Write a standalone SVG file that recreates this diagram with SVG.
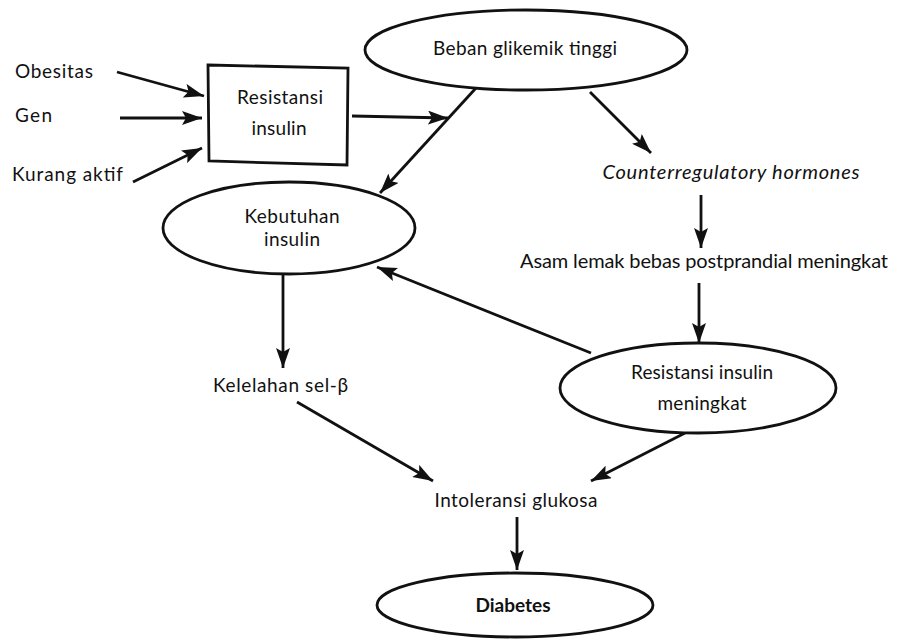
<svg xmlns="http://www.w3.org/2000/svg" width="897" height="639" viewBox="0 0 897 639">
<style>
text{font-family:Lato,"Open Sans","DejaVu Sans",sans-serif;font-size:19px;fill:#111;}
.c{text-anchor:middle;}
.big{font-size:20px;}
.shape{fill:#fff;stroke:#111;stroke-width:2.8;}
.edge{fill:none;stroke:#111;stroke-width:2.8;marker-end:url(#ah);}
</style>
<defs>
<marker id="ah" markerUnits="userSpaceOnUse" markerWidth="22" markerHeight="14" refX="20" refY="7" orient="auto">
<path d="M0,0 L20,7 L0,14 L4,7 z" fill="#111"/>
</marker>
</defs>
<rect width="897" height="639" fill="#fff"/>
<g id="connectors">
<line class="edge" x1="117" y1="72" x2="204" y2="96"/>
<line class="edge" x1="120" y1="118" x2="202" y2="118"/>
<line class="edge" x1="133" y1="182" x2="202" y2="148"/>
<line class="edge" x1="352" y1="116" x2="448" y2="118"/>
<line class="edge" x1="476" y1="88" x2="380" y2="193"/>
<line class="edge" x1="590" y1="92" x2="651" y2="153"/>
<line class="edge" x1="701" y1="195" x2="701" y2="248"/>
<line class="edge" x1="699" y1="283" x2="699" y2="343"/>
<line class="edge" x1="591" y1="353" x2="377" y2="267"/>
<line class="edge" x1="283" y1="275" x2="283" y2="368"/>
<line class="edge" x1="297" y1="402" x2="433" y2="481"/>
<line class="edge" x1="685" y1="433" x2="591" y2="481"/>
<line class="edge" x1="517" y1="517" x2="517" y2="570"/>
</g>
<g id="obesitas"><text x="15" y="78" textLength="78">Obesitas</text></g>
<g id="gen"><text x="15" y="122" textLength="37">Gen</text></g>
<g id="kurang-aktif"><text x="12" y="181" textLength="111">Kurang aktif</text></g>
<g id="resistansi-insulin">
<path class="shape" d="M208,65 L348,68 L347,165 L209,161 Z"/>
<text class="c" x="280" y="104" textLength="86">Resistansi</text>
<text class="c" x="279" y="135" textLength="55">insulin</text>
</g>
<g id="beban-glikemik">
<ellipse class="shape" cx="526" cy="50" rx="161" ry="40"/>
<text class="c" x="525" y="55" textLength="184">Beban glikemik tinggi</text>
</g>
<g id="kebutuhan-insulin">
<ellipse class="shape" cx="289" cy="228" rx="126" ry="46"/>
<text class="c" x="292" y="223" textLength="95">Kebutuhan</text>
<text class="c" x="292" y="246" textLength="56">insulin</text>
</g>
<g id="counterregulatory"><text class="c big" x="731" y="179" font-style="italic" textLength="257">Counterregulatory hormones</text></g>
<g id="asam-lemak"><text class="c big" x="704" y="268" textLength="368">Asam lemak bebas postprandial meningkat</text></g>
<g id="resistansi-meningkat">
<ellipse class="shape" cx="698" cy="388" rx="138" ry="45"/>
<text class="c" x="702" y="379" textLength="142">Resistansi insulin</text>
<text class="c" x="702" y="410" textLength="89">meningkat</text>
</g>
<g id="kelelahan"><text x="213" y="392" textLength="135">Kelelahan sel-β</text></g>
<g id="intoleransi"><text class="c" x="516" y="507" textLength="163">Intoleransi glukosa</text></g>
<g id="diabetes">
<ellipse class="shape" cx="515" cy="605" rx="138" ry="32"/>
<text class="c" x="513" y="612" font-weight="bold" textLength="75">Diabetes</text>
</g>
</svg>
